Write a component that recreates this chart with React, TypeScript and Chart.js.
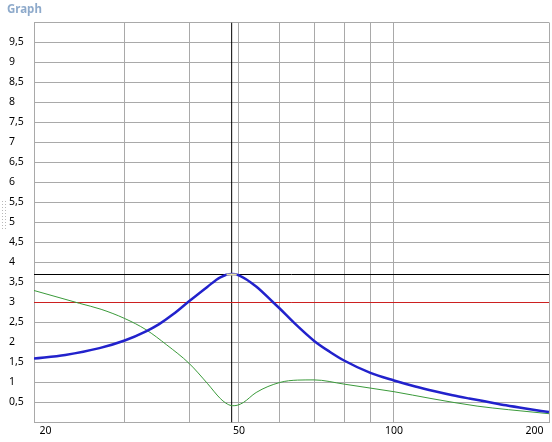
import React, { useEffect, useRef } from 'react';
import { Chart, registerables } from 'chart.js';

Chart.register(...registerables);

// Blue curve
const blueFreq = [20, 23, 26.8, 30, 33, 35, 37.3, 40, 43.4, 46, 48.4, 50, 54, 58.3, 60, 64, 70, 75, 80, 90, 100, 110, 120, 130, 140, 150, 165, 180, 200];
const blueValues = [1.6, 1.69, 1.86, 2.05, 2.28, 2.46, 2.71, 3.03, 3.39, 3.63, 3.71, 3.68, 3.4, 3.0, 2.85, 2.49, 2.04, 1.77, 1.55, 1.24, 1.05, 0.9, 0.78, 0.68, 0.6, 0.53, 0.43, 0.35, 0.26];

// Green curve
const greenFreq = [20, 24.5, 27, 30, 33, 36.2, 40, 43.4, 46, 47.5, 48.6, 49.6, 51, 54, 60, 65, 70, 80, 90, 100, 118, 145, 167, 200];
const greenValues = [3.3, 2.98, 2.83, 2.6, 2.32, 1.94, 1.48, 0.98, 0.6, 0.46, 0.42, 0.43, 0.5, 0.75, 1.0, 1.06, 1.065, 0.96, 0.86, 0.77, 0.6, 0.41, 0.32, 0.22];

// Reference / cursor lines
const redLevel = 3.0;
const cursorFreq = 48.4;
const cursorLevel = 3.7;
const markerFreq = [47.3, 49.5];

// Axes
const xMin = 20;
const xMax = 200;
const yMin = 0;
const yMax = 10;
const yStep = 0.5;
const xGridValues = [20, 30, 40, 50, 60, 70, 80, 90, 100, 200];
const xLabelValues = [20, 50, 100, 200];
const xLabelTexts = ['  20', '50', '100', '200  '];

const FONT = '"Noto Sans", "Liberation Sans", sans-serif';
const GRID = '#a9a9a9';

export default function App() {
  const ref = useRef<HTMLCanvasElement>(null);

  useEffect(() => {
    const canvas = ref.current;
    if (!canvas) return;
    const chart = new Chart(canvas, {
      type: 'line',
      data: {
        datasets: [
          {
            data: markerFreq.map((f) => ({ x: f, y: cursorLevel })),
            borderColor: '#e6e0a6',
            borderWidth: 2,
            pointRadius: 0,
          },
          {
            data: blueFreq.map((f, i) => ({ x: f, y: blueValues[i] })),
            borderColor: '#2222cc',
            borderWidth: 2.5,
            pointRadius: 0,
            cubicInterpolationMode: 'monotone',
          },
          {
            data: greenFreq.map((f, i) => ({ x: f, y: greenValues[i] })),
            borderColor: '#3a9a3a',
            borderWidth: 1,
            pointRadius: 0,
            cubicInterpolationMode: 'monotone',
          },
          {
            data: [{ x: xMin, y: redLevel }, { x: xMax, y: redLevel }],
            borderColor: '#cc2020',
            borderWidth: 1,
            pointRadius: 0,
          },
          {
            data: [{ x: xMin, y: cursorLevel }, { x: xMax, y: cursorLevel }],
            borderColor: '#000000',
            borderWidth: 1,
            pointRadius: 0,
          },
          {
            data: [{ x: cursorFreq, y: yMin }, { x: cursorFreq, y: yMax }],
            borderColor: '#000000',
            borderWidth: 1,
            pointRadius: 0,
          },
        ],
      },
      options: {
        responsive: false,
        animation: false,
        events: [],
        layout: { padding: { left: 9, top: 22.5, right: 3, bottom: 0 } },
        plugins: {
          legend: { display: false },
          tooltip: { enabled: false },
          title: { display: false },
        },
        scales: {
          x: {
            type: 'logarithmic',
            min: xMin,
            max: xMax,
            afterBuildTicks: (s: any) => {
              s.ticks = xGridValues.map((v) => ({ value: v }));
            },
            afterFit: (s: any) => {
              s.height = 19.5;
            },
            grid: { color: GRID, drawTicks: false, lineWidth: 1 },
            border: { color: GRID },
            ticks: {
              autoSkip: false,
              maxRotation: 0,
              minRotation: 0,
              align: 'inner',
              padding: 2,
              color: '#000',
              font: { family: FONT, size: 10.5 },
              callback: (v: any) => {
                const idx = xLabelValues.indexOf(Number(v));
                return idx >= 0 ? xLabelTexts[idx] : '';
              },
            },
          },
          y: {
            type: 'linear',
            min: yMin,
            max: yMax,
            afterFit: (s: any) => {
              s.width = 25;
            },
            grid: { color: GRID, drawTicks: false, lineWidth: 1 },
            border: { color: GRID },
            ticks: {
              stepSize: yStep,
              crossAlign: 'far',
              padding: 4,
              color: '#000',
              font: { family: FONT, size: 10.5 },
              callback: (v: any) => {
                const n = Number(v);
                if (n === yMin || n === yMax) return '';
                return String(n).replace('.', ',');
              },
            },
          },
        },
      } as any,
    });
    return () => chart.destroy();
  }, []);

  return (
    <div style={{ position: 'absolute', left: 0, top: 0, width: 552, height: 442, background: '#ffffff' }}>
      <canvas
        ref={ref}
        width={552}
        height={442}
        style={{ position: 'absolute', left: 0, top: 0, width: 552, height: 442, display: 'block' }}
      />
      <div
        style={{
          position: 'absolute',
          left: 7,
          top: 1,
          fontFamily: FONT,
          fontWeight: 'bold',
          fontSize: 11.5,
          color: '#8eaacb',
        }}
      >
        Graph
      </div>
      <div
        style={{
          position: 'absolute',
          left: 1,
          top: 200,
          width: 6,
          height: 30,
          backgroundImage: 'radial-gradient(circle, #b8b8b8 0.8px, transparent 1px)',
          backgroundSize: '3px 3px',
        }}
      />
    </div>
  );
}
